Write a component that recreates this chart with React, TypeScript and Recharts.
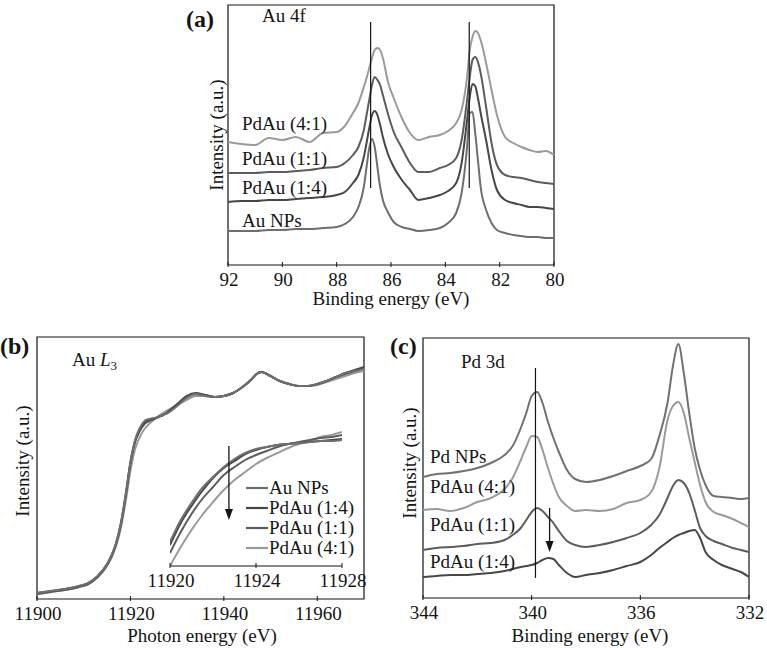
import React from 'react';
import { LineChart, Line, XAxis, YAxis, ReferenceLine, ReferenceArea, ReferenceDot } from 'recharts';

const FONT = '"Liberation Serif", "Times New Roman", Times, serif';
const INK = '#151515';
const FS = 19;

// (a) Au 4f XPS, binding energy (eV)
const A_ENERGY = [92, 91.5, 91, 90.5, 90, 89.5, 89, 88.5, 88, 87.7, 87.4, 87.2, 87.0, 86.9, 86.8, 86.7, 86.6, 86.5, 86.4, 86.3, 86.1, 85.9, 85.6, 85.3, 85, 84.6, 84.2, 83.9, 83.6, 83.4, 83.2, 83.1, 83.0, 82.9, 82.8, 82.7, 82.5, 82.3, 82.1, 81.8, 81.5, 81.2, 80.9, 80.6, 80.3, 80];
const A_AU_NPS = [34, 34, 34, 35, 35, 36, 36, 37, 38, 41, 48, 58, 78, 98, 117, 126, 118, 98, 78, 65, 52, 43, 38, 36, 34, 35, 37, 42, 52, 72, 118, 152, 153, 132, 105, 78, 55, 42, 35, 32, 30, 29, 28, 28, 27, 27];
const A_PDAU_14 = [63, 64, 64, 65, 65, 66, 67, 68, 70, 73, 82, 90, 108, 122, 137, 150, 154, 150, 140, 128, 110, 98, 85, 75, 65, 67, 70, 74, 82, 102, 145, 168, 181, 179, 167, 152, 125, 95, 75, 65, 62, 60, 58, 58, 57, 56];
const A_PDAU_11 = [92, 92, 92, 93, 93, 94, 95, 97, 98, 102, 110, 118, 135, 150, 165, 180, 188, 185, 180, 170, 150, 133, 117, 102, 93, 93, 97, 100, 107, 125, 165, 188, 205, 208, 203, 192, 158, 122, 100, 90, 88, 87, 85, 83, 82, 81];
const A_PDAU_41 = [123, 121, 120, 127, 125, 128, 123, 132, 133, 139, 152, 162, 178, 187, 197, 207, 215, 217, 215, 207, 182, 167, 147, 132, 125, 128, 130, 134, 142, 155, 188, 215, 228, 234, 232, 225, 202, 175, 150, 128, 122, 118, 115, 113, 114, 110];
const A_TICKS = [92, 90, 88, 86, 84, 82, 80];
const A_MARKS = [86.75, 83.12];

// (b) Au L3 XANES, photon energy (eV)
const B_ENERGY = [11900, 11903, 11906, 11909, 11911, 11913, 11915, 11916, 11917, 11918, 11919, 11920, 11921, 11922, 11923, 11924, 11925, 11926, 11927, 11928, 11930, 11932, 11934, 11936, 11938, 11940, 11942, 11944, 11946, 11947, 11948, 11950, 11952, 11954, 11956, 11958, 11960, 11962, 11964, 11966, 11968, 11970];
const B_AU_NPS = [6, 8, 10, 13, 16, 23, 35, 44, 57, 76, 104, 136, 159, 171, 178, 180, 181, 182, 184, 186, 193, 201, 205, 203, 202, 203, 206, 212, 220, 225, 227, 223, 218, 215, 213, 213, 215, 218, 222, 226, 228, 230];
const B_PDAU_14 = [6, 8, 10, 13, 16, 23, 35, 44, 57, 77, 105, 137, 158, 169, 176, 179, 180, 182, 184, 187, 195, 203, 206, 204, 202, 203, 206, 212, 220, 225, 227, 223, 218, 215, 213, 213, 215, 218, 222, 226, 229, 232];
const B_PDAU_11 = [5, 7, 9, 12, 15, 22, 34, 43, 56, 75, 103, 135, 157, 168, 175, 178, 180, 182, 184, 187, 194, 202, 205, 204, 202, 203, 206, 212, 220, 225, 227, 223, 218, 215, 213, 213, 215, 218, 222, 225, 228, 231];
const B_PDAU_41 = [5, 7, 9, 12, 15, 22, 33, 42, 54, 72, 98, 128, 150, 162, 170, 175, 179, 183, 186, 189, 194, 199, 203, 203, 202, 203, 206, 212, 220, 225, 227, 223, 218, 215, 213, 213, 214, 217, 220, 223, 226, 228];
const B_TICKS = [11900, 11920, 11940, 11960];

// (b) inset, edge region
const I_ENERGY = [11920, 11920.5, 11921, 11921.5, 11922, 11922.5, 11923, 11923.5, 11924, 11924.5, 11925, 11925.5, 11926, 11926.5, 11927, 11927.5, 11928];
const I_AU_NPS = [24, 46, 63, 78, 89, 99, 107, 113, 117, 119, 121, 122, 123, 124, 125, 125, 126];
const I_PDAU_14 = [21, 43, 60, 75, 88, 98, 105, 112, 116, 119, 121, 122, 123, 124, 125, 126, 127];
const I_PDAU_11 = [13, 34, 52, 67, 79, 91, 99, 106, 111, 115, 119, 122, 124, 126, 128, 129, 131];
const I_PDAU_41 = [0, 19, 36, 51, 64, 76, 86, 94, 102, 108, 113, 118, 122, 125, 129, 131, 134];
const I_TICKS = [11920, 11924, 11928];

// (c) Pd 3d XPS
const C_ENERGY = [344, 343.5, 343, 342.5, 342, 341.5, 341, 340.7, 340.4, 340.2, 340.0, 339.8, 339.6, 339.4, 339.2, 339.0, 338.7, 338.4, 338, 337.5, 337, 336.5, 336, 335.6, 335.3, 335.0, 334.8, 334.6, 334.4, 334.2, 334.0, 333.8, 333.6, 333.3, 333.0, 332.6, 332.3, 332.0];
const C_PD_NPS = [121, 124, 125, 127, 130, 135, 143, 152, 170, 185, 202, 206, 195, 176, 160, 146, 128, 119, 116, 118, 122, 127, 132, 139, 162, 195, 232, 254, 225, 185, 150, 128, 113, 102, 101, 100, 99, 100];
const C_PDAU_41 = [88, 89, 87, 90, 96, 100, 109, 120, 138, 151, 162, 161, 148, 130, 114, 101, 92, 87, 88, 87, 89, 95, 98, 106, 130, 178, 192, 196, 185, 160, 136, 113, 96, 86, 83, 79, 75, 71];
const C_PDAU_11 = [48, 50, 51, 52, 54, 55, 58, 63, 70, 78, 86, 90, 87, 81, 75, 67, 57, 53, 51, 53, 56, 60, 65, 73, 83, 100, 112, 118, 115, 105, 88, 70, 62, 57, 54, 50, 48, 46];
const C_PDAU_14 = [21, 22, 23, 23, 24, 25, 27, 29, 31, 32, 33, 35, 38, 40, 39, 33, 25, 21, 23, 25, 28, 32, 36, 43, 50, 56, 60, 63, 65, 67, 68, 60, 46, 38, 33, 29, 26, 21];
const C_TICKS = [344, 340, 336, 332];

const COLORS: Record<string, string> = {
  auNPs: '#6e6e6e',
  pdau14: '#474747',
  pdau11: '#5c5c5c',
  pdau41: '#9a9a9a',
  pdNPs: '#717171',
};

const LEGEND = [
  { key: 'auNPs', name: 'Au NPs' },
  { key: 'pdau14', name: 'PdAu (1:4)' },
  { key: 'pdau11', name: 'PdAu (1:1)' },
  { key: 'pdau41', name: 'PdAu (4:1)' },
];

const zip = (xs: number[], cols: Record<string, number[]>) =>
  xs.map((e, i) => {
    const row: any = { e };
    for (const k in cols) row[k] = cols[k][i];
    return row;
  });

const dataA = zip(A_ENERGY, { auNPs: A_AU_NPS, pdau14: A_PDAU_14, pdau11: A_PDAU_11, pdau41: A_PDAU_41 });
const dataB = zip(B_ENERGY, { auNPs: B_AU_NPS, pdau14: B_PDAU_14, pdau11: B_PDAU_11, pdau41: B_PDAU_41 });
const dataI = zip(I_ENERGY, { auNPs: I_AU_NPS, pdau14: I_PDAU_14, pdau11: I_PDAU_11, pdau41: I_PDAU_41 });
const dataC = zip(C_ENERGY, { pdNPs: C_PD_NPS, pdau41: C_PDAU_41, pdau11: C_PDAU_11, pdau14: C_PDAU_14 });

// ticks point into the plot, label below
const InTick = (props: any) => {
  const { x, y, payload } = props;
  return (
    <g>
      <line x1={x} y1={y} x2={x} y2={y - 5} stroke={INK} strokeWidth={1} />
      <text x={x + 1} y={y + 19} textAnchor="middle" fontSize={FS} fontFamily={FONT} fill={INK}>
        {payload.value}
      </text>
    </g>
  );
};

const ArrowHead = (props: any) => {
  const { cx, cy } = props;
  return <path d={`M${cx - 4},${cy - 11}L${cx + 4},${cy - 11}L${cx},${cy}Z`} fill={INK} />;
};

const series = (keys: string[]) =>
  keys.map((k) => (
    <Line key={k} dataKey={k} type="monotone" stroke={COLORS[k]} strokeWidth={2} dot={false} isAnimationActive={false} />
  ));

const Txt = ({ x, y, children, size = FS, bold = false, anchor = 'start' }: any) => (
  <text x={x} y={y} fontSize={size} fontWeight={bold ? 'bold' : 'normal'} textAnchor={anchor} fill={INK}>
    {children}
  </text>
);

const YTitle = ({ x, y }: { x: number; y: number }) => (
  <text x={x} y={y} transform={`rotate(-90 ${x} ${y})`} textAnchor="middle" fontSize={FS} fill={INK}>
    Intensity (a.u.)
  </text>
);

export default function App() {
  return (
    <div style={{ position: 'absolute', left: 0, top: 0, width: 767, height: 648, background: '#fff', fontFamily: FONT, overflow: 'hidden' }}>
      <div style={{ position: 'absolute', left: 0, top: 0 }}>
        <LineChart width={767} height={310} data={dataA} margin={{ top: 5, right: 213, bottom: 5, left: 228 }}>
          <XAxis dataKey="e" type="number" domain={[80, 92]} reversed ticks={A_TICKS} interval={0} tickSize={0} tickLine={false} axisLine={false} tick={<InTick />} height={40} allowDataOverflow />
          <YAxis hide type="number" domain={[0, 260]} allowDataOverflow />
          {series(['auNPs', 'pdau14', 'pdau11', 'pdau41'])}
          {A_MARKS.map((m) => (
            <ReferenceLine key={m} segment={[{ x: m, y: 77 }, { x: m, y: 243 }]} stroke={INK} strokeWidth={1.2} />
          ))}
          <ReferenceArea x1={92} x2={80} y1={0} y2={260} fill="none" stroke={INK} strokeWidth={1.2} ifOverflow="visible" />
        </LineChart>
      </div>

      <div style={{ position: 'absolute', left: 0, top: 310 }}>
        <LineChart width={390} height={338} data={dataB} margin={{ top: 27, right: 26, bottom: 4, left: 37 }}>
          <XAxis dataKey="e" type="number" domain={[11900, 11970]} ticks={B_TICKS} interval={0} tickSize={0} tickLine={false} axisLine={false} tick={<InTick />} height={45} allowDataOverflow />
          <YAxis hide type="number" domain={[0, 262]} allowDataOverflow />
          {series(['pdau41', 'pdau11', 'pdau14', 'auNPs'])}
          <ReferenceArea x1={11900} x2={11970} y1={0} y2={262} fill="none" stroke={INK} strokeWidth={1.2} ifOverflow="visible" />
        </LineChart>
      </div>

      <div style={{ position: 'absolute', left: 120, top: 400 }}>
        <LineChart width={280} height={200} data={dataI} margin={{ top: 26, right: 58, bottom: 4, left: 50 }}>
          <XAxis dataKey="e" type="number" domain={[11920, 11928]} ticks={I_TICKS} interval={0} tickSize={0} tickLine={false} axisLine={{ stroke: INK, strokeWidth: 1.2 }} tick={<InTick />} height={30} allowDataOverflow />
          <YAxis hide type="number" domain={[0, 140]} allowDataOverflow />
          {series(['pdau41', 'pdau11', 'pdau14', 'auNPs'])}
          <ReferenceLine segment={[{ x: 11922.74, y: 120 }, { x: 11922.74, y: 52 }]} stroke={INK} strokeWidth={1.3} />
          <ReferenceDot x={11922.74} y={46} r={0} shape={<ArrowHead />} />
        </LineChart>
      </div>

      <div style={{ position: 'absolute', left: 390, top: 310 }}>
        <LineChart width={377} height={338} data={dataC} margin={{ top: 28, right: 18, bottom: 5, left: 33 }}>
          <XAxis dataKey="e" type="number" domain={[332, 344]} reversed ticks={C_TICKS} interval={0} tickSize={0} tickLine={false} axisLine={false} tick={<InTick />} height={45} allowDataOverflow />
          <YAxis hide type="number" domain={[0, 260]} allowDataOverflow />
          {series(['pdNPs', 'pdau41', 'pdau11', 'pdau14'])}
          <ReferenceLine segment={[{ x: 339.86, y: 20 }, { x: 339.86, y: 230 }]} stroke={INK} strokeWidth={1.2} />
          <ReferenceLine segment={[{ x: 339.34, y: 90 }, { x: 339.34, y: 52 }]} stroke={INK} strokeWidth={1.3} />
          <ReferenceDot x={339.34} y={46} r={0} shape={<ArrowHead />} />
          <ReferenceArea x1={344} x2={332} y1={0} y2={260} fill="none" stroke={INK} strokeWidth={1.2} ifOverflow="visible" />
        </LineChart>
      </div>

      <svg width={767} height={648} style={{ position: 'absolute', left: 0, top: 0, pointerEvents: 'none', fontFamily: FONT }}>
        {/* (a) */}
        <Txt x={186} y={27} size={24} bold>(a)</Txt>
        <Txt x={262} y={22}>Au 4f</Txt>
        <Txt x={242} y={130}>PdAu (4:1)</Txt>
        <Txt x={242} y={165}>PdAu (1:1)</Txt>
        <Txt x={242} y={194}>PdAu (1:4)</Txt>
        <Txt x={242} y={227}>Au NPs</Txt>
        <YTitle x={223} y={135} />
        <Txt x={391} y={305} anchor="middle">Binding energy (eV)</Txt>

        {/* (b) */}
        <Txt x={0} y={354} size={24} bold>(b)</Txt>
        <text x={72} y={366} fontSize={FS} fill={INK}>
          Au <tspan fontStyle="italic">L</tspan>
          <tspan fontSize={13} dy={4}>3</tspan>
        </text>
        <YTitle x={29} y={461} />
        <Txt x={202} y={642} anchor="middle">Photon energy (eV)</Txt>
        {LEGEND.map((s, i) => (
          <g key={s.key}>
            <line x1={246} x2={268} y1={488 + i * 20} y2={488 + i * 20} stroke={COLORS[s.key]} strokeWidth={2.2} />
            <Txt x={269} y={494 + i * 20}>{s.name}</Txt>
          </g>
        ))}

        {/* (c) */}
        <Txt x={390} y={354} size={24} bold>(c)</Txt>
        <Txt x={461} y={368}>Pd 3d</Txt>
        <Txt x={430} y={463}>Pd NPs</Txt>
        <Txt x={430} y={493}>PdAu (4:1)</Txt>
        <Txt x={430} y={531}>PdAu (1:1)</Txt>
        <Txt x={430} y={568}>PdAu (1:4)</Txt>
        <YTitle x={416} y={463} />
        <Txt x={590} y={642} anchor="middle">Binding energy (eV)</Txt>
      </svg>
    </div>
  );
}
